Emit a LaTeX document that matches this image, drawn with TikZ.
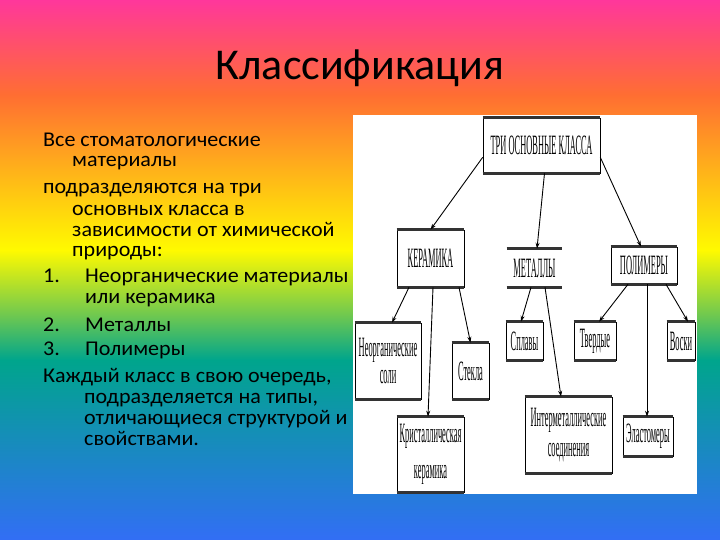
\documentclass[tikz,border=0pt]{standalone}
\usepackage{fontspec}
\setmainfont[FakeStretch=1.05]{Carlito}
\newfontfamily\schemefont[FakeStretch=0.3]{Liberation Serif}
\usetikzlibrary{arrows.meta,calc}
\definecolor{rbPink}{RGB}{255,55,155}
\definecolor{rbOrange}{RGB}{255,110,50}
\definecolor{rbYellow}{RGB}{255,250,0}
\definecolor{rbGreen}{RGB}{110,200,80}
\definecolor{rbTeal}{RGB}{0,165,140}
\definecolor{rbBlue}{RGB}{50,110,245}
\pgfdeclareverticalshading{rainbow}{100bp}{color(0bp)=(rbBlue); color(25bp)=(rbBlue);
  color(41.67bp)=(rbTeal); color(45.8bp)=(rbGreen); color(51.85bp)=(rbYellow);
  color(66.2bp)=(rbOrange); color(75bp)=(rbPink); color(100bp)=(rbPink)}
\tikzset{
  klassbox/.style={draw=black, line width=0.6bp, fill=white, inner sep=0pt, align=center,
    font=\fontsize{28bp}{30bp}\schemefont},
  rule/.style={line width=2.5bp, draw=black!80},
  link/.style={line width=0.9bp, -{Stealth[length=6bp,width=4bp]}}
}
\begin{document}
\begin{tikzpicture}[x=1bp,y=-1bp]
  \useasboundingbox (0,0) rectangle (720,540);
  \shade [shading=rainbow] (0,0) rectangle (720,540);
  \node [anchor=base, inner sep=0pt, font=\addfontfeatures{FakeStretch=1}\fontsize{44bp}{50bp}\selectfont] (title) at (360,80) {Классификация};
  \foreach \x/\y/\t [count = \i] in {43/147/{Все стоматологические}, 72/167/{материалы},
      43/194/{подразделяются на три}, 72/216/{основных класса в}, 72/237/{зависимости от химической},
      72/257/{природы:}, 43/283/{1.}, 85/283/{Неорганические материалы}, 85/303/{или керамика},
      43/331/{2.}, 85/331/{Металлы}, 43/355/{3.}, 85/355/{Полимеры},
      43/382/{Каждый класс в свою очередь,}, 84/403/{подразделяется на типы,},
      84/424/{отличающиеся структурой и}, 84/445/{свойствами.}}{
    \node [anchor=base west, inner sep=0pt, font=\fontsize{21bp}{22bp}\selectfont] (line\i) at (\x,\y) {\t};
  }
  \fill [white] (353,115) rectangle (697,494);
  \def\klass[#1](#2)#3#4#5#6{
    \node [klassbox, minimum width=#4bp, minimum height=#5bp, #1] (#3) at (#2) {#6};
    \draw [rule] (#3.north west) -- (#3.north east);
    \draw [rule] (#3.south west) -- (#3.south east);
  }
  \klass[](541.5,145.5){tri}{117}{55}{ТРИ ОСНОВНЫЕ КЛАССА}
  \klass[](430.5,258.5){ker}{67}{57}{КЕРАМИКА}
  \klass[draw=none](534.5,268){met}{55}{38}{МЕТАЛЛЫ}
  \klass[](644,265.5){pol}{66}{37}{ПОЛИМЕРЫ}
  \klass[](388,361){neo}{66}{76}{Неорганические\\[-3bp]соли}
  \klass[](470.5,371){stek}{37}{56}{Стекла}
  \klass[](430.5,454.5){krist}{67}{75}{Кристаллическая\\[6bp]керамика}
  \klass[](524.5,341){spl}{37}{38}{Сплавы}
  \klass[](568.5,435){inter}{87}{76}{Интерметаллические\\[0bp]соединения}
  \klass[](595,341){tverd}{42}{38}{Твердые}
  \klass[](681,341){vosk}{28}{38}{Воски}
  \klass[](648,436.5){elast}{50}{39}{Эластомеры}
  \draw [link] ($(tri.south west)+(0,-16)$) -- (ker.north);
  \draw [link] ($(tri.south)+(3,0)$) -- ($(met.north)+(2.5,0)$);
  \draw [link] ($(tri.south east)+(0,-16)$) -- ($(pol.north)+(-3,0)$);
  \draw [link] ($(ker.south)+(-21.5,0)$) -- ($(neo.north)+(4,0)$);
  \draw [link] ($(ker.south)+(2.5,0)$) -- ($(krist.north)+(-2.5,0)$);
  \draw [link] ($(ker.south)+(28.5,0)$) -- (stek.north);
  \draw [link] ($(met.south)+(-3.5,0)$) -- ($(spl.north)+(-3.5,0)$);
  \draw [link] ($(met.south)+(10.5,0)$) -- ($(inter.north)+(-7.5,0)$);
  \draw [link] ($(pol.south)+(-16,0)$) -- ($(tverd.north)+(4,0)$);
  \draw [link] ($(pol.south)+(3,0)$) -- ($(elast.north)+(-1,0)$);
  \draw [link] ($(pol.south)+(22,0)$) -- ($(vosk.north)+(7,0)$);
\end{tikzpicture}
\end{document}
